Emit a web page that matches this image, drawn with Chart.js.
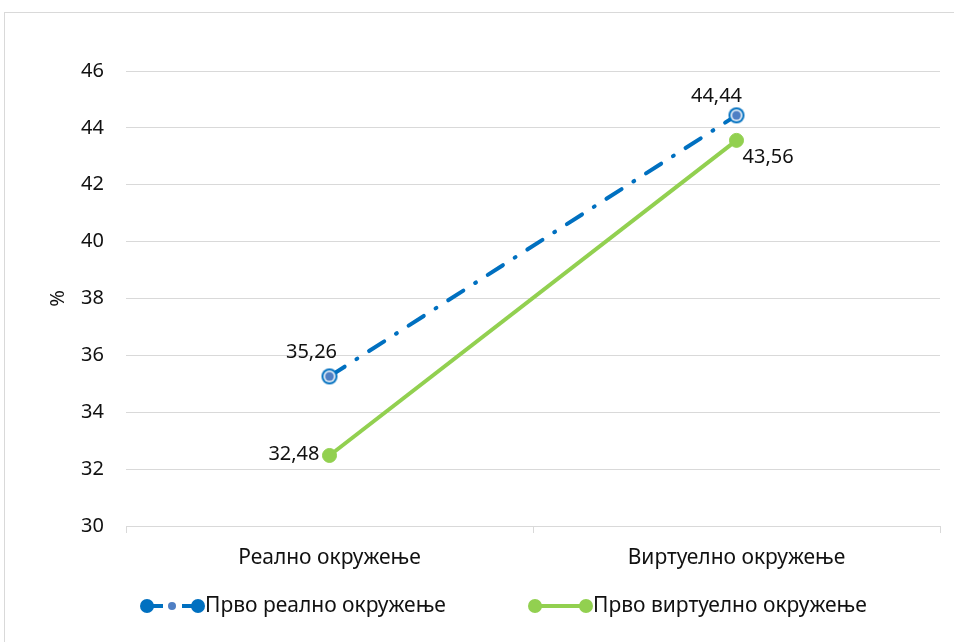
<!DOCTYPE html>
<html>
<head>
<meta charset="utf-8">
<script src="https://cdn.jsdelivr.net/npm/chart.js@4"></script>
<style>
  html, body { margin: 0; padding: 0; background: #fff; }
  #wrap { position: relative; width: 954px; height: 642px; overflow: hidden; }
  #frame { position: absolute; left: 4px; top: 12px; width: 980px; height: 660px; border: 1px solid #d9d9d9; }
  canvas { position: absolute; left: 0; top: 0; }
</style>
</head>
<body>
<div id="wrap">
  <div id="frame"></div>
  <canvas id="chart" width="954" height="642"></canvas>
</div>
<script>
const categories = ['Реално окружење', 'Виртуелно окружење'];
const seriesNames = ['Прво реално окружење', 'Прво виртуелно окружење'];
const firstReal = [35.26, 44.44];
const firstVirtual = [32.48, 43.56];
const yTicks = [30, 32, 34, 36, 38, 40, 42, 44, 46];

const BLUE = '#0070C0';
const GREEN = '#92D050';
const FONT = '"Noto Sans", "Liberation Sans", sans-serif';
const FSIZE = 20;

// marker for the blue series: ring, white gap, filled centre
function blueMarker(r) {
  const c = document.createElement('canvas');
  c.width = c.height = r * 2 + 2;
  const g = c.getContext('2d');
  const m = r + 1;
  g.beginPath(); g.arc(m, m, r, 0, Math.PI * 2); g.fillStyle = BLUE; g.fill();
  g.beginPath(); g.arc(m, m, r - 2, 0, Math.PI * 2); g.fillStyle = '#fff'; g.fill();
  g.beginPath(); g.arc(m, m, r - 3.5, 0, Math.PI * 2); g.fillStyle = '#4f7fc4'; g.fill();
  return c;
}

const fmt = v => v.toFixed(2).replace('.', ',');

// value labels: [dx, dy, align] per point
const labelPos = [
  [[-18, -24, 'center'], [-20, -19, 'center']],
  [[-10, -1, 'right'], [6, 17, 'left']]
];

const valueLabels = {
  id: 'valueLabels',
  afterDatasetsDraw(chart) {
    const ctx = chart.ctx;
    ctx.save();
    ctx.font = FSIZE + 'px ' + FONT;
    ctx.fillStyle = '#111';
    ctx.textBaseline = 'middle';
    chart.data.datasets.forEach((ds, i) => {
      chart.getDatasetMeta(i).data.forEach((pt, j) => {
        const p = labelPos[i][j];
        ctx.textAlign = p[2];
        ctx.fillText(fmt(ds.data[j]), pt.x + p[0], pt.y + p[1]);
      });
    });
    ctx.restore();
  }
};

const customLegend = {
  id: 'customLegend',
  afterDraw(chart) {
    const ctx = chart.ctx;
    const y = 606;
    ctx.save();
    // blue
    ctx.strokeStyle = BLUE; ctx.lineWidth = 4;
    ctx.beginPath(); ctx.moveTo(147, y); ctx.lineTo(163, y); ctx.stroke();
    ctx.beginPath(); ctx.moveTo(182, y); ctx.lineTo(198, y); ctx.stroke();
    ctx.fillStyle = BLUE;
    [147, 198].forEach(x => { ctx.beginPath(); ctx.arc(x, y, 7, 0, Math.PI * 2); ctx.fill(); });
    ctx.fillStyle = '#4f7fc4';
    ctx.beginPath(); ctx.arc(172, y, 4, 0, Math.PI * 2); ctx.fill();
    // green
    ctx.strokeStyle = GREEN;
    ctx.beginPath(); ctx.moveTo(535, y); ctx.lineTo(586, y); ctx.stroke();
    ctx.fillStyle = GREEN;
    [535, 586].forEach(x => { ctx.beginPath(); ctx.arc(x, y, 7, 0, Math.PI * 2); ctx.fill(); });
    ctx.font = '21px ' + FONT;
    ctx.fillStyle = '#111';
    ctx.textBaseline = 'middle';
    ctx.textAlign = 'left';
    ctx.fillText(seriesNames[0], 205, y);
    ctx.fillText(seriesNames[1], 593, y);
    ctx.restore();
  }
};

new Chart(document.getElementById('chart').getContext('2d'), {
  type: 'line',
  data: {
    labels: categories,
    datasets: [{
      label: seriesNames[0],
      data: firstReal,
      borderColor: BLUE,
      borderWidth: 4,
      borderDash: [18, 14, 1, 14],
      borderCapStyle: 'round',
      pointStyle: blueMarker(8),
      pointRadius: 8,
      tension: 0
    }, {
      label: seriesNames[1],
      data: firstVirtual,
      borderColor: GREEN,
      backgroundColor: GREEN,
      borderWidth: 4,
      pointRadius: 7,
      pointBackgroundColor: GREEN,
      pointBorderColor: GREEN,
      pointBorderWidth: 1,
      tension: 0
    }]
  },
  options: {
    responsive: false,
    animation: false,
    layout: { padding: { left: 0, top: 71, right: 14, bottom: 0 } },
    plugins: {
      legend: { display: false },
      tooltip: { enabled: false }
    },
    scales: {
      x: {
        offset: true,
        grid: { offset: true, drawOnChartArea: false, color: '#d9d9d9', tickLength: 7 },
        border: { color: '#d9d9d9' },
        ticks: { color: '#111', font: { family: FONT, size: 21 }, padding: 12 },
        afterFit(s) { s.height = 116; }
      },
      y: {
        min: 30,
        max: 46,
        afterBuildTicks(s) { s.ticks = yTicks.map(v => ({ value: v })); },
        grid: { color: '#d9d9d9', drawTicks: false },
        border: { display: false },
        ticks: { color: '#111', font: { family: FONT, size: FSIZE }, padding: 22 },
        title: { display: true, text: '%', color: '#111', font: { family: FONT, size: FSIZE }, padding: { top: 46, bottom: 0 } },
        afterFit(s) { s.width = 126; }
      }
    }
  },
  plugins: [valueLabels, customLegend]
});
</script>
</body>
</html>
